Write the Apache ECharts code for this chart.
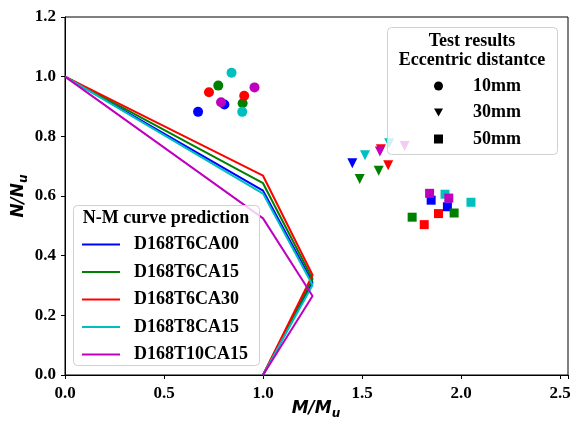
<!DOCTYPE html>
<html>
<head>
<meta charset="utf-8">
<script src="https://cdn.jsdelivr.net/npm/echarts@6/dist/echarts.min.js"></script>
<style>
  html, body { margin: 0; padding: 0; background: #fff; }
  #chart { width: 571px; height: 424px; }
</style>
</head>
<body>
<div id="chart"></div>
<script>
// specimens (order = plotting order of the prediction curves)
const specimens = ['D168T6CA00', 'D168T6CA15', 'D168T6CA30', 'D168T8CA15', 'D168T10CA15'];
const colors = ['#0000ff', '#008000', '#ff0000', '#00bfbf', '#bf00bf'];

// N-M curve prediction, M/Mu points shared by all curves
const curveM = [0, 1.0, 1.25, 1.0];
const curveN = [
    [1.0, 0.618, 0.31, 0],   // D168T6CA00
    [1.0, 0.643, 0.322, 0],  // D168T6CA15
    [1.0, 0.668, 0.335, 0],  // D168T6CA30
    [1.0, 0.608, 0.302, 0],  // D168T8CA15
    [1.0, 0.525, 0.265, 0]   // D168T10CA15
];

// test results: [M/Mu, N/Nu, specimen index]
const test10mm = [
    [0.672, 0.882, 0], [0.805, 0.907, 0],
    [0.774, 0.970, 1], [0.897, 0.911, 1],
    [0.727, 0.948, 2], [0.905, 0.936, 2],
    [0.841, 1.013, 3], [0.895, 0.882, 3],
    [0.788, 0.914, 4], [0.957, 0.964, 4]
];
const test30mm = [
    [1.451, 0.710, 0],
    [1.488, 0.657, 1], [1.584, 0.685, 1],
    [1.595, 0.757, 2], [1.632, 0.703, 2],
    [1.515, 0.737, 3], [1.637, 0.777, 3],
    [1.590, 0.749, 4], [1.715, 0.768, 4]
];
const test50mm = [
    [1.849, 0.586, 0], [1.931, 0.564, 0],
    [1.753, 0.529, 1], [1.965, 0.543, 1],
    [1.886, 0.541, 2], [1.814, 0.504, 2],
    [1.919, 0.606, 3], [2.050, 0.579, 3],
    [1.841, 0.609, 4], [1.938, 0.593, 4]
];

const xTicks = ['0.0', '0.5', '1.0', '1.5', '2.0', '2.5'];
const yTicks = ['0.0', '0.2', '0.4', '0.6', '0.8', '1.0', '1.2'];

const serif = '"Liberation Serif", "Times New Roman", serif';
const triDown = 'path://M0,0 L10,0 L5,9 Z';

var myChart = echarts.init(document.getElementById('chart'), null, { renderer: 'canvas' });

function pts(list) {
    return list.map(function (p) {
        return { value: [p[0], p[1]], itemStyle: { color: colors[p[2]] } };
    });
}

var series = specimens.map(function (name, i) {
    return {
        name: name,
        type: 'line',
        symbol: 'none',
        data: curveM.map(function (m, k) { return [m, curveN[i][k]]; }),
        lineStyle: { color: colors[i], width: 2 },
        itemStyle: { color: colors[i] },
        z: 2
    };
});
[['10mm', 'circle', 10, test10mm], ['30mm', triDown, 10, test30mm], ['50mm', 'rect', 9, test50mm]].forEach(function (s) {
    series.push({
        name: s[0],
        type: 'scatter',
        symbol: s[1],
        symbolSize: s[2],
        itemStyle: { color: '#000', opacity: 1 },
        data: pts(s[3]),
        z: 3
    });
});

// axis titles with subscript u
var nameRich = {
    a: { fontSize: 17, fontWeight: 'bold', fontStyle: 'italic', fontFamily: 'DejaVu Sans', fill: '#000', verticalAlign: 'top', padding: [0, 0, 3, 0] },
    b: { fontSize: 12, fontWeight: 'bold', fontStyle: 'italic', fontFamily: 'DejaVu Sans', fill: '#000', verticalAlign: 'bottom' }
};

var option = {
    animation: false,
    backgroundColor: '#fff',
    grid: { left: 65, right: 3, top: 17, bottom: 49, show: true, borderColor: '#000', borderWidth: 1, outerBoundsMode: 'none', containLabel: false },
    xAxis: {
        type: 'value', min: 0, max: 2.54, interval: 0.5,
        splitLine: { show: false },
        axisLine: { lineStyle: { color: '#000', width: 1 } },
        axisTick: { inside: false, length: 4, lineStyle: { color: '#000' } },
        axisLabel: {
            fontFamily: serif, fontWeight: 'bold', fontSize: 17, color: '#000', margin: 10,
            formatter: function (v) {
                var k = Math.round(v / 0.5);
                return Math.abs(v - k * 0.5) < 1e-6 ? xTicks[k] : '';
            }
        }
    },
    yAxis: {
        type: 'value', min: 0, max: 1.2, interval: 0.2,
        splitLine: { show: false },
        axisLine: { lineStyle: { color: '#000', width: 1 } },
        axisTick: { inside: false, length: 4, lineStyle: { color: '#000' } },
        axisLabel: {
            fontFamily: serif, fontWeight: 'bold', fontSize: 17, color: '#000', margin: 9,
            formatter: function (v) { return yTicks[Math.round(v / 0.2)]; }
        }
    },
    legend: [
        {
            data: specimens,
            orient: 'vertical',
            left: 82, top: 235.5,
            padding: 0,
            icon: 'rect',
            itemWidth: 38, itemHeight: 2, itemGap: 9.5,
            textStyle: { fontFamily: serif, fontWeight: 'bold', fontSize: 18, color: '#000', padding: [0, 0, 0, 9] },
            selectedMode: false,
            z: 10
        },
        {
            data: ['10mm', '30mm', '50mm'],
            orient: 'vertical',
            left: 434, top: 77,
            padding: 0,
            itemWidth: 9, itemHeight: 9, itemGap: 8.5,
            textStyle: { fontFamily: serif, fontWeight: 'bold', fontSize: 18, color: '#000', padding: [0, 0, 0, 25] },
            selectedMode: false,
            z: 10
        }
    ],
    graphic: [
        {
            type: 'text', z: 10, x: 316, y: 410,
            style: { text: '{a|M/M}{b|u}', rich: nameRich, align: 'center', verticalAlign: 'middle' }
        },
        {
            type: 'text', z: 10, x: 20, y: 196, rotation: Math.PI / 2,
            style: { text: '{a|N/N}{b|u}', rich: nameRich, align: 'center', verticalAlign: 'middle' }
        },
        {
            type: 'rect', z: 8,
            shape: { x: 73.5, y: 205.5, width: 186, height: 160, r: 4 },
            style: { fill: 'rgba(255,255,255,0.8)', stroke: '#d0d0d0', lineWidth: 1 }
        },
        {
            type: 'text', z: 10,
            style: { text: 'N-M curve prediction', x: 166, y: 218, align: 'center', verticalAlign: 'middle', font: 'bold 18px ' + serif, fill: '#000' }
        },
        {
            type: 'rect', z: 8,
            shape: { x: 387.5, y: 27.5, width: 170, height: 127, r: 4 },
            style: { fill: 'rgba(255,255,255,0.8)', stroke: '#d0d0d0', lineWidth: 1 }
        },
        {
            type: 'text', z: 10,
            style: { text: 'Test results\nEccentric distantce', x: 472, y: 51, align: 'center', verticalAlign: 'middle', lineHeight: 19.5, font: 'bold 18px ' + serif, fill: '#000' }
        }
    ],
    series: series
};

myChart.setOption(option);
</script>
</body>
</html>
